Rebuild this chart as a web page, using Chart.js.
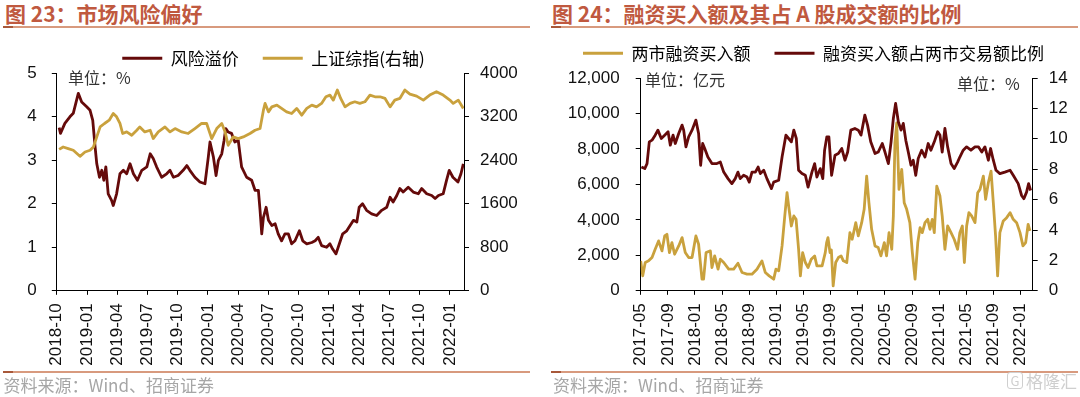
<!DOCTYPE html>
<html><head><meta charset="utf-8">
<script src="https://cdn.jsdelivr.net/npm/chart.js@4.4.1/dist/chart.umd.min.js"></script>
<style>
html,body{margin:0;padding:0;background:#fff;}
body{width:1080px;height:397px;position:relative;overflow:hidden;font-family:'Noto Sans CJK SC',sans-serif;}
.title{position:absolute;top:0;font-size:21px;font-weight:bold;color:#C0593F;line-height:26px;white-space:nowrap;}
.rule{position:absolute;height:2px;background:#D89A7E;}
.rule i{position:absolute;left:0;top:0;width:10px;height:2px;background:#A8583A;}
.src{position:absolute;top:374.5px;font-size:17px;color:#A6A6A6;line-height:20px;white-space:nowrap;}
.unit{position:absolute;font-size:16px;color:#333;line-height:18px;white-space:nowrap;}
canvas{position:absolute;top:0;}
.wm{position:absolute;left:1007px;top:372px;font-size:17px;color:#CFCFCF;line-height:18px;white-space:nowrap;}
.wm b{display:inline-block;border:1.5px solid #CFCFCF;border-radius:3px;width:14px;height:15px;line-height:15px;text-align:center;font-size:13px;font-weight:normal;margin-right:3px;vertical-align:top;}
</style></head>
<body>
<div class="title" style="left:5px;">图 23：市场风险偏好</div>
<div class="title" style="left:552px;">图 24：融资买入额及其占 A 股成交额的比例</div>
<div class="rule" style="left:3px;width:527px;top:25.8px;"><i></i></div>
<div class="rule" style="left:551px;width:527px;top:25.8px;"><i></i></div>
<canvas id="c1" width="540" height="378" style="left:0;"></canvas>
<canvas id="c2" width="540" height="378" style="left:540px;"></canvas>
<div class="unit" style="left:68px;top:68px;">单位：%</div>
<div class="unit" style="left:645px;top:69.5px;">单位：亿元</div>
<div class="unit" style="left:957px;top:73.5px;">单位：%</div>
<div class="rule" style="left:3px;width:527px;top:370.5px;"><i></i></div>
<div class="rule" style="left:551px;width:527px;top:370.5px;"><i></i></div>
<div class="src" style="left:3.5px;">资料来源：Wind、招商证券</div>
<div class="src" style="left:553px;">资料来源：Wind、招商证券</div>
<div class="wm"><b>G</b>格隆汇</div>
<script>
// ---------- Figure 23 data ----------
const riskDates = ['2018-10-08','2018-10-12','2018-10-25','2018-11-10','2018-11-20','2018-12-05','2018-12-15','2018-12-30','2019-01-10','2019-01-18','2019-01-25','2019-01-30','2019-02-08','2019-02-15','2019-02-21','2019-02-27','2019-03-04','2019-03-14','2019-03-19','2019-03-29','2019-04-09','2019-04-19','2019-04-29','2019-05-09','2019-05-19','2019-05-31','2019-06-14','2019-06-29','2019-07-09','2019-07-18','2019-07-28','2019-08-13','2019-08-28','2019-09-08','2019-09-18','2019-10-02','2019-10-17','2019-10-28','2019-11-07','2019-11-22','2019-12-07','2019-12-22','2020-01-02','2020-01-07','2020-01-17','2020-01-25','2020-02-02','2020-02-12','2020-02-19','2020-02-24','2020-03-01','2020-03-11','2020-03-21','2020-04-01','2020-04-11','2020-04-26','2020-05-11','2020-05-21','2020-05-31','2020-06-06','2020-06-11','2020-06-16','2020-06-24','2020-07-01','2020-07-11','2020-07-21','2020-07-30','2020-08-10','2020-08-20','2020-08-30','2020-09-10','2020-09-20','2020-10-03','2020-10-13','2020-10-25','2020-11-10','2020-11-20','2020-11-29','2020-12-09','2020-12-24','2021-01-04','2021-01-12','2021-01-22','2021-02-02','2021-02-12','2021-02-24','2021-03-04','2021-03-14','2021-03-24','2021-04-01','2021-04-11','2021-04-23','2021-05-08','2021-05-23','2021-06-08','2021-06-23','2021-07-03','2021-07-12','2021-07-23','2021-08-02','2021-08-12','2021-08-27','2021-09-12','2021-09-27','2021-10-07','2021-10-22','2021-11-07','2021-11-17','2021-11-27','2021-12-11','2021-12-21','2021-12-29','2022-01-10','2022-01-25','2022-02-04','2022-02-11'];
const riskValues = [3.75,3.62,3.85,4.00,4.08,4.54,4.34,4.23,4.15,3.92,3.31,2.92,2.61,2.77,2.54,2.85,2.23,2.08,1.96,2.23,2.69,2.77,2.69,2.92,2.69,2.54,2.77,2.85,3.15,3.04,2.85,2.61,2.69,2.77,2.61,2.65,2.77,2.88,2.77,2.61,2.50,2.46,3.08,3.42,3.08,2.65,3.00,3.15,3.46,3.73,3.65,3.62,3.42,3.46,2.85,2.61,2.54,2.31,2.31,1.85,1.31,1.69,1.92,1.62,1.50,1.54,1.31,1.15,1.31,1.31,1.08,1.15,1.38,1.15,1.08,1.11,1.15,1.23,1.04,1.00,1.08,0.96,0.85,1.08,1.31,1.38,1.50,1.62,1.58,1.92,2.00,1.85,1.77,1.73,1.85,1.92,2.15,2.04,2.19,2.35,2.27,2.38,2.27,2.23,2.35,2.23,2.19,2.12,2.19,2.23,2.54,2.77,2.61,2.50,2.69,2.92];
const sseDates = ['2018-10-08','2018-10-20','2018-11-05','2018-11-20','2018-12-10','2018-12-25','2019-01-10','2019-01-20','2019-01-30','2019-02-10','2019-02-23','2019-03-07','2019-03-19','2019-03-29','2019-04-09','2019-04-17','2019-04-29','2019-05-14','2019-05-29','2019-06-08','2019-06-23','2019-07-09','2019-07-18','2019-08-03','2019-08-23','2019-09-08','2019-09-23','2019-10-13','2019-11-02','2019-11-22','2019-12-12','2019-12-27','2020-01-12','2020-01-27','2020-02-12','2020-02-22','2020-03-01','2020-03-16','2020-04-01','2020-04-16','2020-05-06','2020-05-21','2020-06-06','2020-06-16','2020-06-21','2020-07-01','2020-07-11','2020-07-26','2020-08-10','2020-08-25','2020-09-10','2020-09-25','2020-10-10','2020-10-25','2020-11-10','2020-11-24','2020-12-09','2020-12-22','2021-01-04','2021-01-14','2021-01-26','2021-02-06','2021-02-19','2021-03-04','2021-03-18','2021-04-03','2021-04-18','2021-05-03','2021-05-18','2021-06-03','2021-06-18','2021-07-03','2021-07-17','2021-08-02','2021-08-17','2021-09-02','2021-09-22','2021-10-12','2021-11-01','2021-11-21','2021-12-11','2022-01-01','2022-01-11','2022-01-26','2022-02-11'];
const sseValues = [2600,2645,2615,2584,2473,2553,2584,2645,2830,3014,3077,3138,3262,3199,3077,2893,2922,2861,2953,3014,2922,2953,2800,2922,3014,2922,2984,2922,2893,2984,3077,3077,2800,2984,3077,2922,2676,2830,2800,2830,2893,2953,2984,3322,3446,3291,3383,3415,3354,3291,3261,3354,3230,3354,3415,3383,3446,3568,3599,3507,3692,3538,3383,3446,3476,3446,3476,3599,3568,3568,3538,3383,3507,3538,3692,3618,3581,3507,3599,3661,3599,3507,3446,3507,3354];
const leftTickLabels = ['2018-10','2019-01','2019-04','2019-07','2019-10','2020-01','2020-04','2020-07','2020-10','2021-01','2021-04','2021-07','2021-10','2022-01'];

// ---------- Figure 24 data ----------
const marginDates = ['2017-05-01','2017-05-10','2017-05-21','2017-06-06','2017-06-21','2017-07-05','2017-07-20','2017-08-05','2017-08-17','2017-08-27','2017-09-08','2017-09-19','2017-10-01','2017-10-19','2017-11-04','2017-11-18','2017-12-03','2017-12-18','2018-01-05','2018-01-17','2018-01-24','2018-02-02','2018-02-09','2018-02-20','2018-03-09','2018-03-16','2018-03-28','2018-04-13','2018-04-23','2018-05-08','2018-05-30','2018-06-22','2018-07-11','2018-07-29','2018-08-21','2018-09-13','2018-10-05','2018-10-27','2018-11-12','2018-11-29','2018-12-19','2018-12-29','2019-01-11','2019-01-26','2019-02-08','2019-02-18','2019-02-27','2019-03-07','2019-03-18','2019-03-28','2019-04-09','2019-04-17','2019-04-27','2019-05-09','2019-05-21','2019-06-05','2019-06-20','2019-06-30','2019-07-23','2019-08-07','2019-08-13','2019-08-19','2019-08-28','2019-09-04','2019-09-12','2019-09-23','2019-10-05','2019-10-17','2019-10-27','2019-11-12','2019-11-26','2019-12-06','2019-12-22','2020-01-03','2020-01-18','2020-01-29','2020-02-10','2020-02-20','2020-03-02','2020-03-17','2020-04-01','2020-04-13','2020-04-28','2020-05-08','2020-05-19','2020-05-31','2020-06-08','2020-06-15','2020-06-23','2020-07-03','2020-07-15','2020-07-26','2020-08-07','2020-08-21','2020-09-02','2020-09-14','2020-09-26','2020-10-06','2020-10-16','2020-10-28','2020-11-10','2020-11-20','2020-11-30','2020-12-09','2020-12-20','2021-01-04','2021-01-14','2021-01-26','2021-02-08','2021-02-23','2021-03-07','2021-03-22','2021-04-02','2021-04-13','2021-04-22','2021-05-02','2021-05-12','2021-05-24','2021-06-09','2021-06-21','2021-07-01','2021-07-16','2021-07-26','2021-08-08','2021-08-20','2021-08-30','2021-09-10','2021-09-19','2021-09-29','2021-10-14','2021-10-29','2021-11-14','2021-11-28','2021-12-13','2021-12-28','2022-01-11','2022-01-23','2022-02-04','2022-02-12'];
const marginValues = [1688,844,1594,1688,1875,2344,2813,2250,3094,3188,2156,2719,2063,2531,3000,2156,1875,1875,3094,2625,1688,656,656,2156,2250,1313,1969,1219,1781,1594,1219,1219,1556,1031,938,938,1219,1688,1031,844,656,1219,1125,2531,4219,5531,4594,3656,4219,4031,2344,844,2156,1594,1313,1781,1969,1406,1406,2156,2719,3000,2156,2300,281,1594,1875,1969,1688,1594,3281,2906,3844,3094,3844,4594,6469,4969,3469,2531,2438,1969,2719,1969,3281,2344,4219,8344,9469,5719,6844,4969,4594,3844,2156,656,2719,3563,3281,3844,4031,3469,4031,3281,5906,5344,4219,2344,3656,3281,2906,2344,3281,3656,1594,3656,4406,4219,3844,5531,5719,6469,5156,6094,6750,4969,3094,844,3281,3938,4125,4406,4031,3844,3281,2531,2719,3750,3375];
const ratioDates = ['2017-05-04','2017-05-19','2017-05-29','2017-06-09','2017-06-21','2017-07-05','2017-07-17','2017-08-02','2017-08-17','2017-09-02','2017-09-12','2017-09-24','2017-10-04','2017-10-19','2017-11-04','2017-11-11','2017-11-21','2017-12-03','2017-12-18','2018-01-05','2018-01-17','2018-01-26','2018-02-05','2018-02-14','2018-02-28','2018-03-16','2018-04-08','2018-04-23','2018-05-08','2018-05-27','2018-06-14','2018-06-29','2018-07-11','2018-07-21','2018-08-06','2018-08-21','2018-09-01','2018-09-13','2018-09-28','2018-10-10','2018-10-20','2018-11-05','2018-11-19','2018-12-09','2018-12-19','2019-01-11','2019-01-26','2019-02-13','2019-02-25','2019-03-07','2019-03-18','2019-03-29','2019-04-09','2019-04-24','2019-05-09','2019-05-21','2019-06-08','2019-06-20','2019-06-30','2019-07-15','2019-07-26','2019-08-04','2019-08-14','2019-08-23','2019-09-05','2019-09-20','2019-10-05','2019-10-20','2019-11-04','2019-11-16','2019-11-30','2019-12-18','2020-01-03','2020-01-15','2020-02-02','2020-02-14','2020-02-28','2020-03-17','2020-04-01','2020-04-19','2020-05-01','2020-05-16','2020-05-28','2020-06-08','2020-06-18','2020-06-30','2020-07-12','2020-07-22','2020-08-03','2020-08-14','2020-08-26','2020-09-06','2020-09-17','2020-09-28','2020-10-13','2020-10-28','2020-11-12','2020-11-24','2020-12-09','2020-12-24','2021-01-04','2021-01-14','2021-01-26','2021-02-08','2021-02-23','2021-03-07','2021-03-22','2021-04-02','2021-04-17','2021-05-02','2021-05-21','2021-06-09','2021-06-24','2021-07-09','2021-07-23','2021-08-08','2021-08-18','2021-08-30','2021-09-12','2021-09-29','2021-10-21','2021-11-14','2021-11-28','2021-12-20','2022-01-05','2022-01-15','2022-01-27','2022-02-06','2022-02-15'];
const ratioValues = [8.14,8.04,8.37,9.80,9.91,10.24,10.57,10.02,10.24,10.46,9.58,10.24,9.69,10.35,10.90,10.57,9.47,10.13,10.57,11.23,10.35,8.26,9.69,9.36,8.80,8.37,8.37,8.47,7.81,7.38,7.05,7.38,7.81,7.38,7.60,7.48,7.15,7.81,7.81,8.14,7.71,7.93,7.38,6.72,7.15,7.27,8.80,10.24,10.02,9.80,10.57,10.02,7.93,7.71,7.60,6.82,7.81,8.37,7.48,8.04,7.38,9.25,10.13,10.13,7.60,8.92,9.03,9.36,8.59,9.13,10.57,10.68,10.57,10.24,11.56,10.90,9.80,9.03,9.13,9.69,9.13,8.37,9.80,11.34,12.33,11.12,10.57,11.01,9.91,9.13,8.26,8.59,7.60,8.70,9.25,8.80,9.69,9.25,9.80,10.46,10.24,9.13,10.68,9.47,8.37,8.04,8.47,8.80,9.25,9.47,9.25,9.47,9.47,9.13,9.47,8.59,9.36,8.59,7.93,7.71,7.81,7.93,7.60,7.05,6.27,6.06,6.49,7.05,6.60];
const rightTickLabels = ['2017-05','2017-09','2018-01','2018-05','2018-09','2019-01','2019-05','2019-09','2020-01','2020-05','2020-09','2021-01','2021-05','2021-09','2022-01'];

const DARK = '#650A0A';
const GOLD = '#C9A13D';

function toMonths(base, s) {
  const p = s.split('-').map(Number), b = base.split('-').map(Number);
  return (p[0] - b[0]) * 12 + (p[1] - b[1]) + ((p[2] || 1) - 1) / 30;
}
function series(base, dates, vals) {
  return dates.map((d, i) => ({x: toMonths(base, d), y: vals[i]}));
}

Chart.defaults.font.family = "'Liberation Sans', Arial, sans-serif";
Chart.defaults.font.size = 17;
Chart.defaults.color = '#111';

function legendOpts(maxH) {
  const o = {
    position: 'top', align: 'center', weight: 1600,
    labels: {
      boxWidth: 40, boxHeight: 3, padding: 24, color: '#000',
      font: {size: 17, family: "'Noto Sans CJK SC', sans-serif"},
      sort: (a, b) => a.datasetIndex - b.datasetIndex,
      generateLabels: (chart) => {
        const items = Chart.defaults.plugins.legend.labels.generateLabels(chart);
        items.forEach(it => { it.lineWidth = 0; it.fillStyle = it.strokeStyle; });
        return items;
      }
    }
  };
  if (maxH) o.maxHeight = maxH;
  return o;
}
function yAxis(pos, min, max, step, width, pad, fmt) {
  return {
    type: 'linear', position: pos, min: min, max: max,
    border: {display: true, color: '#000', width: 1},
    grid: {drawOnChartArea: false, drawTicks: true, tickLength: 5, color: '#000'},
    ticks: {stepSize: step, padding: pad, color: '#111', font: {size: 17},
            callback: fmt || (v => String(v))},
    afterFit: (ax) => { ax.width = width; }
  };
}
function xAxis(base, labels, max) {
  const pos = labels.map(l => toMonths(base, l + '-01'));
  const map = new Map(pos.map((p, i) => [p, labels[i]]));
  return {
    type: 'linear', position: 'bottom', min: 0, max: max,
    border: {display: true, color: '#000', width: 1},
    grid: {drawOnChartArea: false, drawTicks: true, tickLength: 4, color: '#000'},
    ticks: {autoSkip: false, minRotation: 90, maxRotation: 90, padding: 8.5, color: '#111',
            font: {size: 17}, callback: (v) => (map.has(v) ? map.get(v) : '')},
    afterBuildTicks: (ax) => { ax.ticks = pos.map(v => ({value: v})); },
    afterFit: (ax) => { ax.height = 87.2; }
  };
}
function lineDs(label, data, color, axis, order) {
  return {label, data, borderColor: color, backgroundColor: color, borderWidth: 2.8,
          pointRadius: 0, tension: 0, yAxisID: axis, order, borderJoinStyle: 'round'};
}

// Figure 23
new Chart(document.getElementById('c1'), {
  type: 'line',
  data: {datasets: [
    lineDs('风险溢价', series('2018-10-01', riskDates, riskValues), DARK, 'y', 1),
    lineDs('上证综指(右轴)', series('2018-10-01', sseDates, sseValues), GOLD, 'y1', 0)
  ]},
  options: {
    responsive: false, animation: false, devicePixelRatio: 1,
    layout: {padding: {left: 7, right: 0, top: 25.8, bottom: 0}},
    plugins: {legend: legendOpts(47.5), tooltip: {enabled: false}},
    scales: {
      x: xAxis('2018-10-01', leftTickLabels, 40.4),
      y: yAxis('left', 0, 5, 1, 49.8, 15),
      y1: yAxis('right', 0, 4000, 800, 76, 11)
    }
  }
});

// Figure 24
new Chart(document.getElementById('c2'), {
  type: 'line',
  data: {datasets: [
    lineDs('两市融资买入额', series('2017-05-01', marginDates, marginValues), GOLD, 'y', 1),
    lineDs('融资买入额占两市交易额比例', series('2017-05-01', ratioDates, ratioValues), DARK, 'y1', 0)
  ]},
  options: {
    responsive: false, animation: false, devicePixelRatio: 1,
    layout: {padding: {left: 10, right: 3, top: 20.8, bottom: 0}},
    plugins: {
      legend: legendOpts(null),
      subtitle: {display: true, text: '', font: {size: 1, lineHeight: 1}, padding: {top: 0, bottom: 5.2}},
      tooltip: {enabled: false}
    },
    scales: {
      x: xAxis('2017-05-01', rightTickLabels, 57.77),
      y: yAxis('left', 0, 12000, 2000, 90.7, 16, v => v.toLocaleString('en-US')),
      y1: yAxis('right', 0, 14, 2, 44.3, 11)
    }
  }
});
</script>
</body></html>
